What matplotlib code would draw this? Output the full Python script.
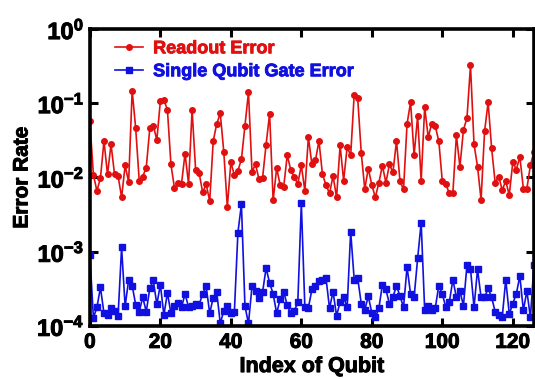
import matplotlib
matplotlib.use("Agg")
import matplotlib.pyplot as plt
import matplotlib.patheffects as pe
import numpy as np

plt.rcParams['font.family'] = ['Liberation Sans', 'DejaVu Sans']
plt.rcParams['font.weight'] = 'bold'
plt.rcParams['mathtext.fontset'] = 'custom'
plt.rcParams['mathtext.rm'] = 'Liberation Sans:bold'
plt.rcParams['mathtext.bf'] = 'Liberation Sans:bold'

# readout error per qubit (0..126)
readout = [
    0.057, 0.0108, 0.0066, 0.0098, 0.031, 0.011, 0.028, 0.011, 0.0105, 0.0054,
    0.0145, 0.0087, 0.148, 0.046, 0.0091, 0.0103, 0.0136, 0.046, 0.050, 0.032,
    0.107, 0.11, 0.082, 0.015, 0.0072, 0.0085, 0.0082, 0.021, 0.0082, 0.081,
    0.0128, 0.0115, 0.0063, 0.0081, 0.0048, 0.031, 0.053, 0.073, 0.022, 0.0040,
    0.016, 0.0108, 0.0123, 0.0176, 0.0496, 0.141, 0.012, 0.015, 0.0094, 0.0098,
    0.0278, 0.072, 0.0049, 0.0134, 0.0079, 0.0075, 0.020, 0.0126, 0.0101, 0.0082,
    0.0146, 0.0066, 0.035, 0.015, 0.017, 0.031, 0.011, 0.0079, 0.0061, 0.0105,
    0.0054, 0.027, 0.0091, 0.0256, 0.0198, 0.131, 0.116, 0.0215, 0.0070, 0.0132,
    0.0079, 0.0054, 0.0085, 0.0144, 0.0085, 0.015, 0.0117, 0.031, 0.0089, 0.0069,
    0.053, 0.103, 0.020, 0.067, 0.0090, 0.088, 0.035, 0.053, 0.049, 0.031,
    0.0089, 0.0081, 0.0061, 0.0062, 0.037, 0.0139, 0.044, 0.063, 0.325, 0.028,
    0.014, 0.0050, 0.042, 0.103, 0.0246, 0.0085, 0.0103, 0.0068, 0.0089, 0.0058,
    0.016, 0.0128, 0.019, 0.0071, 0.0071, 0.0146, 0.022,
]

# single qubit gate error per qubit
gate = [
    8.9e-4, 1.29e-4, 1.78e-4, 3.3e-4, 1.48e-4, 1.4e-4, 1.73e-4, 1.6e-4, 1.37e-4, 1.14e-3,
    1.83e-4, 4.2e-4, 3.5e-4, 1.93e-4, 1.56e-4, 2.43e-4, 1.56e-4, 3.2e-4, 4.1e-4, 1.95e-4,
    3.6e-4, 1.4e-4, 2.8e-4, 1.48e-4, 1.88e-4, 2.05e-4, 1.78e-4, 2.7e-4, 1.8e-4, 1.83e-4,
    1.97e-4, 1.93e-4, 2.7e-4, 3.4e-4, 1.48e-4, 2.4e-4, 2.85e-4, 1.08e-4, 1.6e-4, 1.85e-4,
    1.48e-4, 1.55e-4, 1.8e-3, 4.35e-3, 1.85e-4, 1.08e-4, 3.4e-4, 2.95e-4, 2.4e-4, 2.85e-4,
    6.0e-4, 3.8e-4, 2.7e-4, 1.48e-4, 2.3e-4, 2.9e-4, 1.9e-4, 1.48e-4, 1.6e-4, 2.07e-4,
    4.46e-3, 1.78e-4, 1.75e-4, 3.1e-4, 3.5e-4, 4.0e-4, 4.1e-4, 4.4e-4, 1.73e-4, 2.9e-4,
    1.37e-4, 2.1e-4, 2.45e-4, 1.78e-4, 1.86e-3, 4.2e-4, 4.4e-4, 2.0e-4, 1.65e-4, 2.5e-4,
    1.5e-4, 1.3e-4, 1.73e-4, 3.6e-4, 3.1e-4, 1.97e-4, 2.45e-4, 3.5e-4, 2.5e-4, 1.8e-4,
    6.2e-4, 2.7e-4, 2.43e-4, 8.1e-4, 2.46e-3, 1.63e-4, 1.85e-4, 1.63e-4, 1.73e-4, 3.5e-4,
    2.7e-4, 1.78e-4, 2.1e-4, 4.2e-4, 2.43e-4, 2.95e-4, 1.88e-4, 6.6e-4, 5.9e-4, 1.78e-4,
    5.8e-4, 2.43e-4, 2.43e-4, 3.2e-4, 2.43e-4, 1.55e-4, 1.4e-4, 1.3e-4, 4.2e-4, 1.45e-4,
    2.0e-4, 2.7e-4, 4.7e-4, 1.63e-4, 2.95e-4, 1.3e-4, 6.6e-4,
]

x_ticks = [0, 20, 40, 60, 80, 100, 120]
y_ticks = [1e-4, 1e-3, 1e-2, 1e-1, 1e0]
y_labels = [r'$\mathbf{10^{-4}}$', r'$\mathbf{10^{-3}}$', r'$\mathbf{10^{-2}}$',
            r'$\mathbf{10^{-1}}$', r'$\mathbf{10^{0}}$']

idx = np.arange(len(readout))

fig = plt.figure(figsize=(5.35, 3.79), dpi=100)
ax = fig.add_axes([0.168, 0.140, 0.830, 0.7835])

red = '#e01010'
blue = '#1010e0'
ax.plot(idx, readout, color=red, marker='o', markersize=4.0, linewidth=1.2,
        label='Readout Error')
ax.plot(idx, gate, color=blue, marker='s', markersize=3.7, linewidth=1.2,
        label='Single Qubit Gate Error')

ax.set_yscale('log')
ax.set_xlim(0, 126)
ax.set_ylim(1e-4, 1)
ax.set_xticks(x_ticks)
ax.set_yticks(y_ticks)
ax.set_yticklabels(y_labels)
ax.minorticks_off()
ax.tick_params(direction='in', length=6, width=2.2, top=True, right=True)
ax.tick_params(axis='x', labelsize=15, pad=5)
ax.tick_params(axis='y', labelsize=17, pad=4)
for s in ax.spines.values():
    s.set_linewidth(2.6)

heavy = [pe.withStroke(linewidth=0.7, foreground='black')]
for lab in ax.get_xticklabels() + ax.get_yticklabels():
    lab.set_fontweight('bold')
    lab.set_path_effects(heavy)

ax.set_xlabel('Index of Qubit', fontsize=15.5, fontweight='bold', labelpad=3,
              path_effects=heavy)
ax.set_ylabel('Error Rate', fontsize=15, fontweight='bold', labelpad=4,
              path_effects=heavy)

leg = ax.legend(loc='upper left', bbox_to_anchor=(0.057, 0.962), frameon=False,
                fontsize=13, labelcolor='linecolor', handlelength=1.55,
                handletextpad=0.55, borderaxespad=0, borderpad=0,
                labelspacing=0.33)
for t, c in zip(leg.get_texts(), [red, blue]):
    t.set_fontweight('bold')
    t.set_path_effects([pe.withStroke(linewidth=0.6, foreground=c)])

fig.savefig('out.png', dpi=100)
